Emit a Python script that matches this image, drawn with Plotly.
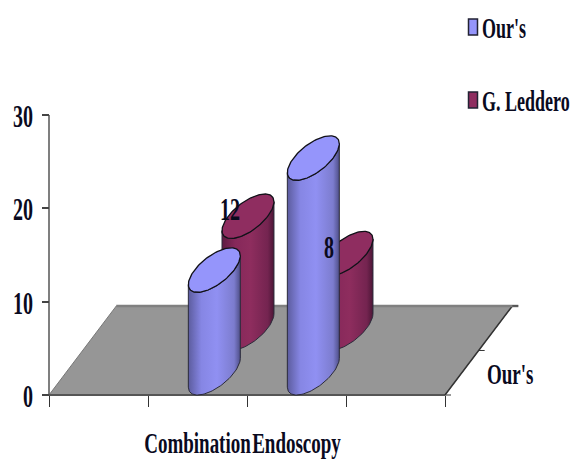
import numpy as np
import plotly.graph_objects as go

# Chart data
categories = ["Combination", "Endoscopy"]
ours_values = [11, 23]
leddero_values = [12, 8]
value_ticks = [0, 10, 20, 30]
series_names = ["Our's", "G. Leddero"]
depth_label = "Our's"

W, H = 570, 459
LEFT, RIGHT, BASE, TOP = 49, 445, 395, 115
CAT_PX = (RIGHT - LEFT) / 4
VAL_PX = (BASE - TOP) / 30

# Oblique projection: one depth slot shifts a point right and up
DEPTH_DX = 0.34
DEPTH_DY = 4.77
RADIUS_X = 0.20
RADIUS_DEPTH = 0.5

FONT = "Liberation Serif"
INK = "#0a0a1e"
BLUE_SCALE = [[0, "#5c5c9e"], [0.25, "#8686e4"], [0.55, "#9090f2"], [0.88, "#7c7cce"], [1, "#4f4f88"]]
RED_SCALE = [[0, "#5e1c42"], [0.25, "#86285a"], [0.55, "#8e2d5e"], [0.88, "#742450"], [1, "#4c1636"]]
BLUE_TOP = "#9595fb"
RED_TOP = "#8f2d60"

# All labels use a tall, condensed bold look: stretch each text about its baseline.
# The value axis labels also sit a little lower against their ticks.
STRETCH_TEXT = """
var s = 1.6;
document.querySelectorAll('svg text').forEach(function (t) {
  var y = parseFloat(t.getAttribute('y')) || 0;
  var base = t.getAttribute('transform') || '';
  var dy = t.closest('.ytick') ? 5 : 0;
  t.setAttribute('transform', base + ' translate(0,' + (y + dy) + ') scale(1,' + s + ') translate(0,' + (-y) + ')');
});
"""


def project(cat, depth, value):
    return cat + depth * DEPTH_DX, value + depth * DEPTH_DY


def ring(cat, depth, value, t):
    x = cat + RADIUS_X * np.cos(t) + RADIUS_DEPTH * DEPTH_DX * np.sin(t)
    d = depth + RADIUS_DEPTH * np.sin(t)
    return x + depth * DEPTH_DX, value + d * DEPTH_DY


def add_cylinder(fig, cat, depth, value, scale, top_color):
    # Silhouette angle of the sheared ellipse, where x reaches its extremes
    t0 = np.arctan2(RADIUS_DEPTH * DEPTH_DX, RADIUS_X)
    lower = np.linspace(t0 + np.pi, t0 + 2 * np.pi, 60)
    upper = lower[::-1]
    bx, by = ring(cat, depth, 0, lower)
    tx, ty = ring(cat, depth, value, upper)
    fig.add_trace(go.Scatter(
        x=np.r_[bx, tx, bx[0]], y=np.r_[by, ty, by[0]], mode="lines",
        fill="toself", line=dict(color="#2a2a3a", width=1),
        fillgradient=dict(type="horizontal", colorscale=scale),
        hoverinfo="skip", showlegend=False))
    t = np.linspace(0, 2 * np.pi, 120)
    ex, ey = ring(cat, depth, value, t)
    fig.add_trace(go.Scatter(
        x=ex, y=ey, mode="lines", fill="toself", fillcolor=top_color,
        line=dict(color="#111118", width=1.3),
        hoverinfo="skip", showlegend=False))


def add_line(fig, xs, ys, color="#555555", width=1.5):
    fig.add_trace(go.Scatter(x=xs, y=ys, mode="lines",
                             line=dict(color=color, width=width),
                             hoverinfo="skip", showlegend=False))


fig = go.Figure()

# Floor of the chart
fx0, fy0 = project(0, 2, 0)
fx1, fy1 = project(4, 2, 0)
fig.add_trace(go.Scatter(x=[0, 4, fx1, fx0, 0], y=[0, 0, fy1, fy0, 0], mode="lines",
                         fill="toself", fillcolor="#969696",
                         line=dict(color="#777777", width=1),
                         hoverinfo="skip", showlegend=False))

# Axis lines and depth ticks
add_line(fig, [0, 0], [0, 30])
add_line(fig, [0, 4], [0, 0], width=2)
add_line(fig, [4, fx1], [0, fy1], color="#333333", width=1.5)
add_line(fig, [fx0, fx1 + 6 / CAT_PX], [fy0, fy1], color="#808080", width=2.5)
for d in (0, 1, 2):
    px, py = project(4, d, 0)
    add_line(fig, [px, px + 6 / CAT_PX], [py, py], color="#333333", width=1)

# Cylinders, back row first
slots = [1.5, 2.5]
for slot, value in zip(slots, leddero_values):
    add_cylinder(fig, slot, 1.5, value, RED_SCALE, RED_TOP)
for slot, value in zip(slots, ours_values):
    add_cylinder(fig, slot, 0.5, value, BLUE_SCALE, BLUE_TOP)

# Value labels of the back row
annotations = []
for slot, value in zip(slots, leddero_values):
    px, py = project(slot, 1.5, value)
    annotations.append(dict(x=px - 18 / CAT_PX, y=py + 0.3, text=f"<b>{value}</b>", showarrow=False,
                            font=dict(family=FONT, size=20, color=INK),
                            xref="x", yref="y"))

# Depth axis label
annotations.append(dict(x=(510 - LEFT) / CAT_PX, y=(BASE - 377) / VAL_PX, text=f"<b>{depth_label}</b>",
                        showarrow=False, font=dict(family=FONT, size=19, color=INK),
                        xref="x", yref="y"))

# Legend
shapes = []
for name, color, cy, in zip(series_names, [BLUE_TOP, RED_TOP], [27, 100]):
    shapes.append(dict(type="rect", xref="paper", yref="paper",
                       x0=468.5 / W, x1=477.5 / W, y0=1 - (cy + 8) / H, y1=1 - (cy - 8) / H,
                       fillcolor=color, line=dict(color="#222233", width=1.5)))
    annotations.append(dict(xref="paper", yref="paper", x=480 / W, y=1 - (cy + 5) / H,
                            xanchor="left", yanchor="middle", text=f"<b>{name}</b>", showarrow=False,
                            font=dict(family=FONT, size=18, color=INK)))

fig.update_layout(
    width=W, height=H, margin=dict(l=0, r=0, t=0, b=0),
    paper_bgcolor="white", plot_bgcolor="white", showlegend=False,
    font=dict(family=FONT, color=INK),
    shapes=shapes, annotations=annotations,
    xaxis=dict(
        range=[-LEFT / CAT_PX, (W - LEFT) / CAT_PX], domain=[0, 1],
        anchor="free", position=(H - BASE) / H, automargin=False,
        showline=False, showgrid=False, zeroline=False,
        tickmode="array", tickvals=slots, ticktext=[f"<b>{c}</b>" for c in categories],
        ticks="", ticklen=0, ticklabelstandoff=38, tickangle=0,
        tickfont=dict(family=FONT, size=19, color=INK),
        minor=dict(tickmode="array", tickvals=[0, 1, 2, 3, 4], ticks="outside",
                   ticklen=11, tickwidth=1, tickcolor="#333333", showgrid=False),
    ),
    yaxis=dict(
        range=[-(H - BASE) / VAL_PX, BASE / VAL_PX], domain=[0, 1],
        anchor="free", position=LEFT / W, automargin=False,
        showline=False, showgrid=False, zeroline=False,
        tickmode="array", tickvals=value_ticks, ticktext=[f"<b>{v}</b>" for v in value_ticks],
        ticks="outside", ticklen=7, tickwidth=1.5, tickcolor="#444444", ticklabelstandoff=5,
        tickfont=dict(family=FONT, size=20, color=INK),
    ),
)

fig.write_html("out.html", config={"displayModeBar": False}, post_script=STRETCH_TEXT)
